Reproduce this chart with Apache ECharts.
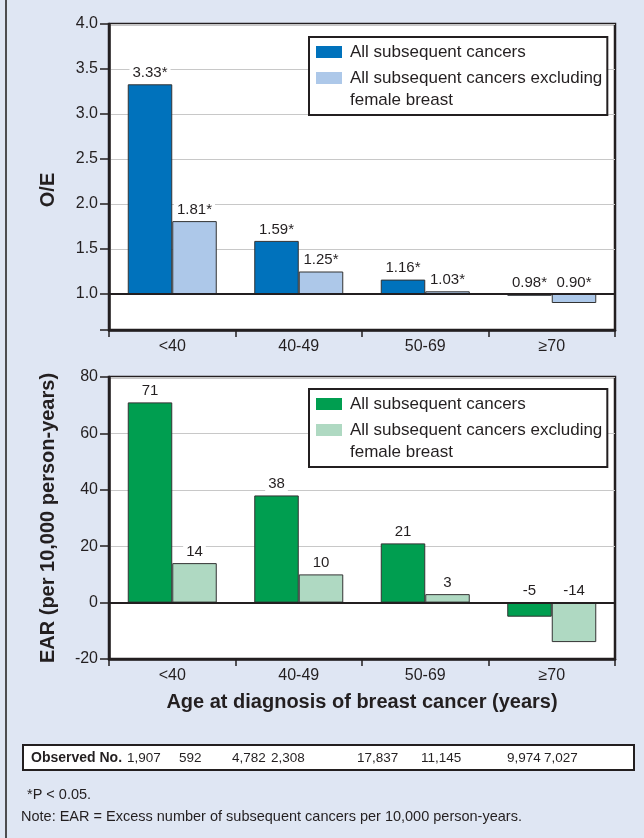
<!DOCTYPE html>
<html><head><meta charset="utf-8">
<script src="https://cdn.jsdelivr.net/npm/echarts@6/dist/echarts.min.js"></script>
<style>html,body{margin:0;padding:0;background:#dfe6f3;}#c{width:644px;height:838px;}</style>
</head><body><div id="c"></div>
<script>
// ---- data ----
const categories = ['<40', '40-49', '50-69', '≥70'];
const seriesNames = ['All subsequent cancers', 'All subsequent cancers excluding female breast'];
const oeAll = [3.33, 1.59, 1.16, 0.98];
const oeExcl = [1.81, 1.25, 1.03, 0.90];
const earAll = [71, 38, 21, -5];
const earExcl = [14, 10, 3, -14];
const oeTickLabels = [1.0, 1.5, 2.0, 2.5, 3.0, 3.5, 4.0];
const oeAxisMin = 0.6, oeAxisMax = 4.0, oeBaseline = 1.0;
const earAxisMin = -20, earAxisMax = 80, earInterval = 20;
const oeTitle = 'O/E';
const earTitle = 'EAR (per 10,000 person-years)';
const xTitle = 'Age at diagnosis of breast cancer (years)';
const observedLabel = 'Observed No.';
const observedNo = ['1,907', '592', '4,782', '2,308', '17,837', '11,145', '9,974', '7,027'];
const notes = ['*P < 0.05.', 'Note: EAR = Excess number of subsequent cancers per 10,000 person-years.'];

// ---- style ----
const FONT = "'Liberation Sans', Arial, sans-serif";
const INK = '#231f20';
const C = { blue: '#0072bc', blueL: '#adc8e9', green: '#009e50', greenL: '#afd9c2' };
const observedX = [127, 179, 232, 271, 357, 421, 507, 544];

const chart = echarts.init(document.getElementById('c'), null, { renderer: 'canvas' });

function legendFmt(name) {
  return name === seriesNames[1] ? '\nAll subsequent cancers excluding\nfemale breast' : name;
}
function makeLegend(top, c1, c2) {
  return {
    data: [{ name: seriesNames[0], itemStyle: { color: c1 } }, { name: seriesNames[1], itemStyle: { color: c2 } }],
    orient: 'vertical', left: 309, top: top, icon: 'rect',
    itemWidth: 26, itemHeight: 12, itemGap: -18,
    padding: [4, 5, 4, 7], borderColor: INK, borderWidth: 2, backgroundColor: '#fff',
    itemStyle: { borderWidth: 0 },
    textStyle: { fontSize: 17, lineHeight: 22, color: INK, fontFamily: FONT, padding: [0, 0, 0, 3] },
    formatter: legendFmt, selectedMode: false
  };
}
const axisLineStyle = { show: true, onZero: false, lineStyle: { color: INK, width: 2.5 } };
const labelStyle = { fontSize: 16, color: INK, fontFamily: FONT };
function xAxis(grid, withName) {
  const a = {
    type: 'category', gridIndex: grid, data: categories,
    axisLine: axisLineStyle,
    axisTick: { show: true, length: 7, lineStyle: { color: INK, width: 1.5 } },
    axisLabel: Object.assign({ margin: 9 }, labelStyle),
    splitLine: { show: false }
  };
  if (withName) Object.assign(a, {
    name: xTitle, nameLocation: 'middle', nameGap: 33,
    nameTextStyle: { fontSize: 20, fontWeight: 'bold', color: INK, fontFamily: FONT }
  });
  return a;
}
const valLabel = {
  show: true, position: 'top', distance: 4, fontSize: 15, color: INK, fontFamily: FONT,
  backgroundColor: '#fff', padding: [1, 3, 0, 3]
};
const barBorder = { borderColor: '#333', borderWidth: 1 };
function baseline(v) {
  return { silent: true, symbol: ['none', 'none'], label: { show: false }, emphasis: { disabled: true },
    lineStyle: { color: INK, width: 2, type: 'solid' }, data: [{ yAxis: v }] };
}
function oeSeries(vals, name, color, stack) {
  return [
    { type: 'bar', name: 'base-' + stack, stack: stack, xAxisIndex: 0, yAxisIndex: 0, barWidth: 44.5, barGap: '0%',
      data: vals.map(v => Math.min(v, oeBaseline)), itemStyle: { color: 'transparent', borderWidth: 0 },
      silent: true, emphasis: { disabled: true } },
    { type: 'bar', name: name, stack: stack, xAxisIndex: 0, yAxisIndex: 0, barWidth: 44.5, barGap: '0%',
      data: vals.map(v => Math.abs(v - oeBaseline)),
      itemStyle: Object.assign({ color: color }, barBorder),
      label: Object.assign({}, valLabel, { formatter: p => vals[p.dataIndex].toFixed(2) + '*' }),
      emphasis: { disabled: true },
      markLine: baseline(oeBaseline) }
  ];
}
function earSeries(vals, name, color) {
  return { type: 'bar', name: name, xAxisIndex: 1, yAxisIndex: 1, barWidth: 44.5, barGap: '0%',
    data: vals, itemStyle: Object.assign({ color: color }, barBorder),
    label: Object.assign({}, valLabel, { formatter: p => String(vals[p.dataIndex]) }),
    emphasis: { disabled: true }, markLine: baseline(0) };
}

const graphics = [
  { type: 'rect', shape: { x: 5, y: 0, width: 2, height: 838 }, style: { fill: '#4d4d4f' } },
  { type: 'rect', shape: { x: 23, y: 745, width: 611, height: 25 }, style: { fill: '#fff', stroke: INK, lineWidth: 2 } },
  { type: 'text', x: 31, y: 758, style: { text: observedLabel, fontSize: 14, fontWeight: 'bold', fontFamily: FONT, fill: INK, verticalAlign: 'middle' } }
];
observedNo.forEach((t, i) => graphics.push({ type: 'text', x: observedX[i], y: 758,
  style: { text: t, fontSize: 13.5, fontFamily: FONT, fill: INK, verticalAlign: 'middle' } }));
graphics.push({ type: 'text', x: 27, y: 795, style: { text: notes[0], fontSize: 14.5, fontFamily: FONT, fill: INK, verticalAlign: 'middle' } });
graphics.push({ type: 'text', x: 21, y: 817, style: { text: notes[1], fontSize: 14.5, fontFamily: FONT, fill: INK, verticalAlign: 'middle' } });

chart.setOption({
  animation: false,
  backgroundColor: '#dfe6f3',
  grid: [
    { left: 109, right: 29, top: 24, height: 306, show: true, backgroundColor: '#fff', borderColor: INK, borderWidth: 2.5 },
    { left: 109, right: 29, top: 377, height: 282, show: true, backgroundColor: '#fff', borderColor: INK, borderWidth: 2.5 }
  ],
  legend: [makeLegend(37, C.blue, C.blueL), makeLegend(389, C.green, C.greenL)],
  xAxis: [xAxis(0, false), xAxis(1, true)],
  yAxis: [
    { type: 'value', gridIndex: 0, min: oeAxisMin, max: oeAxisMax,
      name: oeTitle, nameLocation: 'middle', nameGap: 51,
      nameTextStyle: { fontSize: 20, fontWeight: 'bold', color: INK, fontFamily: FONT, padding: [0, 26, 0, 0] },
      axisLine: axisLineStyle,
      axisTick: { show: true, length: 9, lineStyle: { color: INK, width: 1.5 }, customValues: [oeAxisMin].concat(oeTickLabels) },
      axisLabel: Object.assign({ margin: 11, customValues: oeTickLabels, formatter: v => Number(v).toFixed(1) }, labelStyle),
      splitLine: { show: true, lineStyle: { color: '#c8c8c8', width: 1 } } },
    { type: 'value', gridIndex: 1, min: earAxisMin, max: earAxisMax, interval: earInterval,
      name: earTitle, nameLocation: 'middle', nameGap: 51,
      nameTextStyle: { fontSize: 20, fontWeight: 'bold', color: INK, fontFamily: FONT },
      axisLine: axisLineStyle,
      axisTick: { show: true, length: 9, lineStyle: { color: INK, width: 1.5 } },
      axisLabel: Object.assign({ margin: 11 }, labelStyle),
      splitLine: { show: true, lineStyle: { color: '#c8c8c8', width: 1 } } }
  ],
  series: [].concat(
    oeSeries(oeAll, seriesNames[0], C.blue, 'a'),
    oeSeries(oeExcl, seriesNames[1], C.blueL, 'b'),
    [earSeries(earAll, seriesNames[0], C.green), earSeries(earExcl, seriesNames[1], C.greenL)]
  ),
  graphic: graphics
});
</script></body></html>
